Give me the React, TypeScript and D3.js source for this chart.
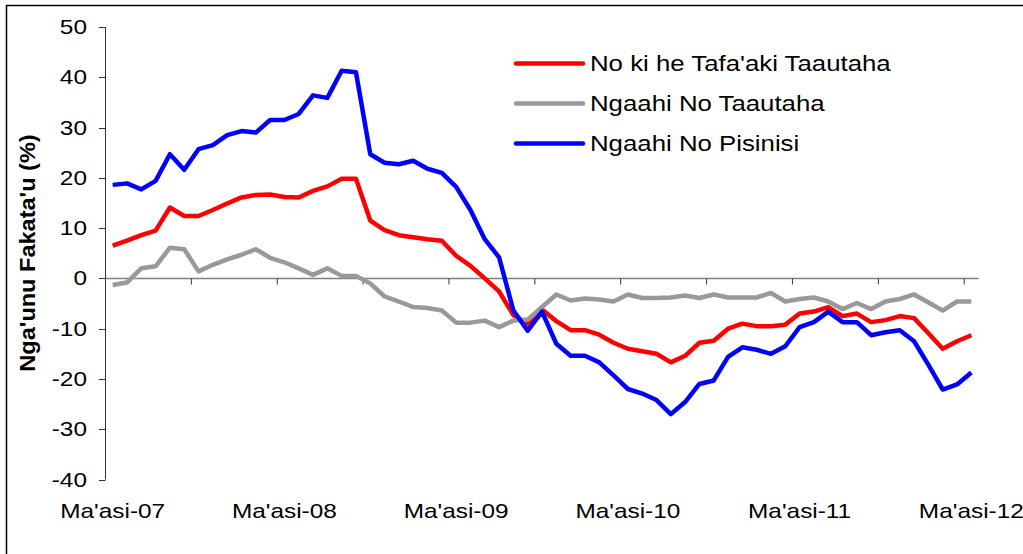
// line chart: annual change (%) of three loan series, monthly Mar-07 .. Mar-12
import React, { useRef, useEffect } from 'react';
import * as d3 from 'd3';

// one category per month, Ma'asi-07 to Ma'asi-12
const months = d3.timeMonth.range(new Date(2007, 2, 1), new Date(2012, 3, 1));
const xLabels = ["Ma'asi-07", "Ma'asi-08", "Ma'asi-09", "Ma'asi-10", "Ma'asi-11", "Ma'asi-12"];
const yTicks = [-40, -30, -20, -10, 0, 10, 20, 30, 40, 50];

const totalLoans = [
  6.5, 7.5, 8.6, 9.5, 14.1, 12.4, 12.4, 13.6, 14.9, 16.1,
  16.6, 16.7, 16.2, 16.1, 17.4, 18.3, 19.8, 19.8, 11.5, 9.6,
  8.6, 8.2, 7.8, 7.5, 4.5, 2.5, 0.0, -2.6, -7.3, -9.0,
  -6.2, -8.5, -10.3, -10.3, -11.2, -12.8, -14.0, -14.5, -15.0, -16.7,
  -15.4, -12.8, -12.4, -10.0, -9.0, -9.5, -9.5, -9.2, -7.0, -6.6,
  -5.7, -7.5, -7.0, -8.7, -8.3, -7.5, -7.9, -10.9, -14.0, -12.5, -11.3
];
const householdLoans = [
  -1.3, -0.8, 2.0, 2.4, 6.1, 5.8, 1.4, 2.7, 3.8, 4.7,
  5.8, 4.1, 3.2, 2.0, 0.7, 2.0, 0.5, 0.5, -1.0, -3.6,
  -4.6, -5.7, -5.9, -6.4, -8.8, -8.8, -8.4, -9.7, -8.4, -8.2,
  -5.7, -3.2, -4.4, -4.0, -4.2, -4.6, -3.2, -3.9, -3.9, -3.8,
  -3.4, -3.9, -3.2, -3.8, -3.8, -3.8, -2.9, -4.6, -4.1, -3.8,
  -4.6, -6.1, -4.9, -6.1, -4.6, -4.1, -3.2, -4.8, -6.4, -4.6, -4.6
];
const businessLoans = [
  18.6, 18.9, 17.7, 19.4, 24.7, 21.6, 25.7, 26.5, 28.5, 29.3,
  29.0, 31.5, 31.5, 32.7, 36.4, 35.9, 41.3, 41.0, 24.7, 23.0,
  22.7, 23.4, 21.8, 21.0, 18.2, 13.6, 7.8, 4.2, -6.4, -10.4,
  -6.6, -13.0, -15.4, -15.4, -16.7, -19.3, -22.0, -22.9, -24.2, -27.0,
  -24.6, -21.0, -20.3, -15.6, -13.7, -14.2, -15.0, -13.5, -9.7, -8.7,
  -6.6, -8.7, -8.7, -11.3, -10.7, -10.3, -12.5, -17.2, -22.1, -21.1, -18.7
];

const seriesNames = ["No ki he Tafa'aki Taautaha", "Ngaahi No Taautaha", "Ngaahi No Pisinisi"];
const seriesColors = ['#ff0000', '#999999', '#0000ff'];

function App() {
  const ref = useRef(null);
  const width = 1023;
  const height = 554;
  const font = '"Liberation Sans", Arial, sans-serif';
  const stretch = 1.22;

  useEffect(() => {
    const svg = d3.select(ref.current);
    svg.selectAll('*').remove();

    const x = d3.scaleBand()
      .domain(months.map((d, i) => i))
      .range([105.5, 978.5])
      .padding(0);
    const xc = i => x(i) + x.bandwidth() / 2;

    const y = d3.scaleLinear()
      .domain([-40, 50])
      .range([479.5, 27]);

    // outer frame (runs off the right / bottom edge like the original)
    svg.append('rect')
      .attr('x', 6.5).attr('y', 5.5)
      .attr('width', 1040).attr('height', 570)
      .attr('fill', 'white')
      .attr('stroke', 'black')
      .attr('stroke-width', 1.5);

    // y axis
    svg.append('line')
      .attr('x1', 105.5).attr('x2', 105.5)
      .attr('y1', y(50)).attr('y2', y(-40))
      .attr('stroke', '#333').attr('stroke-width', 1);
    yTicks.forEach(t => {
      svg.append('line')
        .attr('x1', 99).attr('x2', 105.5)
        .attr('y1', Math.round(y(t)) + 0.5).attr('y2', Math.round(y(t)) + 0.5)
        .attr('stroke', '#333');
      svg.append('text')
        .attr('transform', `translate(87,${y(t) + 7}) scale(${stretch},1)`)
        .attr('text-anchor', 'end')
        .style('font-family', font)
        .style('font-size', '20px')
        .attr('fill', 'black')
        .text(t);
    });

    // x axis at zero
    const y0 = Math.round(y(0)) + 0.5;
    svg.append('line')
      .attr('x1', 105.5).attr('x2', 978.5)
      .attr('y1', y0).attr('y2', y0)
      .attr('stroke', '#808080').attr('stroke-width', 1.5);
    months.forEach((m, i) => {
      if (i > 0 && i % 6 === 0) {
        svg.append('line')
          .attr('x1', x(i)).attr('x2', x(i))
          .attr('y1', y0).attr('y2', y0 + 6)
          .attr('stroke', '#333');
      }
    });
    xLabels.forEach((lab, k) => {
      svg.append('text')
        .attr('transform', `translate(${xc(k * 12)},518) scale(${stretch},1)`)
        .attr('text-anchor', 'middle')
        .style('font-family', font)
        .style('font-size', '20px')
        .attr('fill', 'black')
        .text(lab);
    });

    // y title
    svg.append('text')
      .attr('transform', 'translate(35,253) rotate(-90) scale(1.07,1)')
      .attr('text-anchor', 'middle')
      .style('font-family', font)
      .style('font-size', '22px')
      .style('font-weight', 'bold')
      .attr('fill', 'black')
      .text("Nga'unu Fakata'u (%)");

    // series lines, order red, gray, blue (blue on top)
    const line = d3.line()
      .x((d, i) => xc(i))
      .y(d => y(d));
    [totalLoans, householdLoans, businessLoans].forEach((s, k) => {
      svg.append('path')
        .datum(s)
        .attr('d', line)
        .attr('fill', 'none')
        .attr('stroke', seriesColors[k])
        .attr('stroke-width', 4.5)
        .attr('stroke-linejoin', 'round');
    });

    // legend
    seriesNames.forEach((name, k) => {
      const ly = 63.5 + k * 40;
      svg.append('line')
        .attr('x1', 516).attr('x2', 583)
        .attr('y1', ly).attr('y2', ly)
        .attr('stroke', seriesColors[k])
        .attr('stroke-width', 4.5)
        .attr('stroke-linecap', 'round');
      svg.append('text')
        .attr('transform', `translate(590,${ly + 7.5}) scale(1.2,1)`)
        .style('font-family', font)
        .style('font-size', '21.5px')
        .attr('fill', 'black')
        .text(name);
    });
  }, []);

  return (
    <div style={{ position: 'fixed', left: 0, top: 0 }}>
      <svg ref={ref} width={width} height={height} style={{ display: 'block' }} />
    </div>
  );
}

export default App;
